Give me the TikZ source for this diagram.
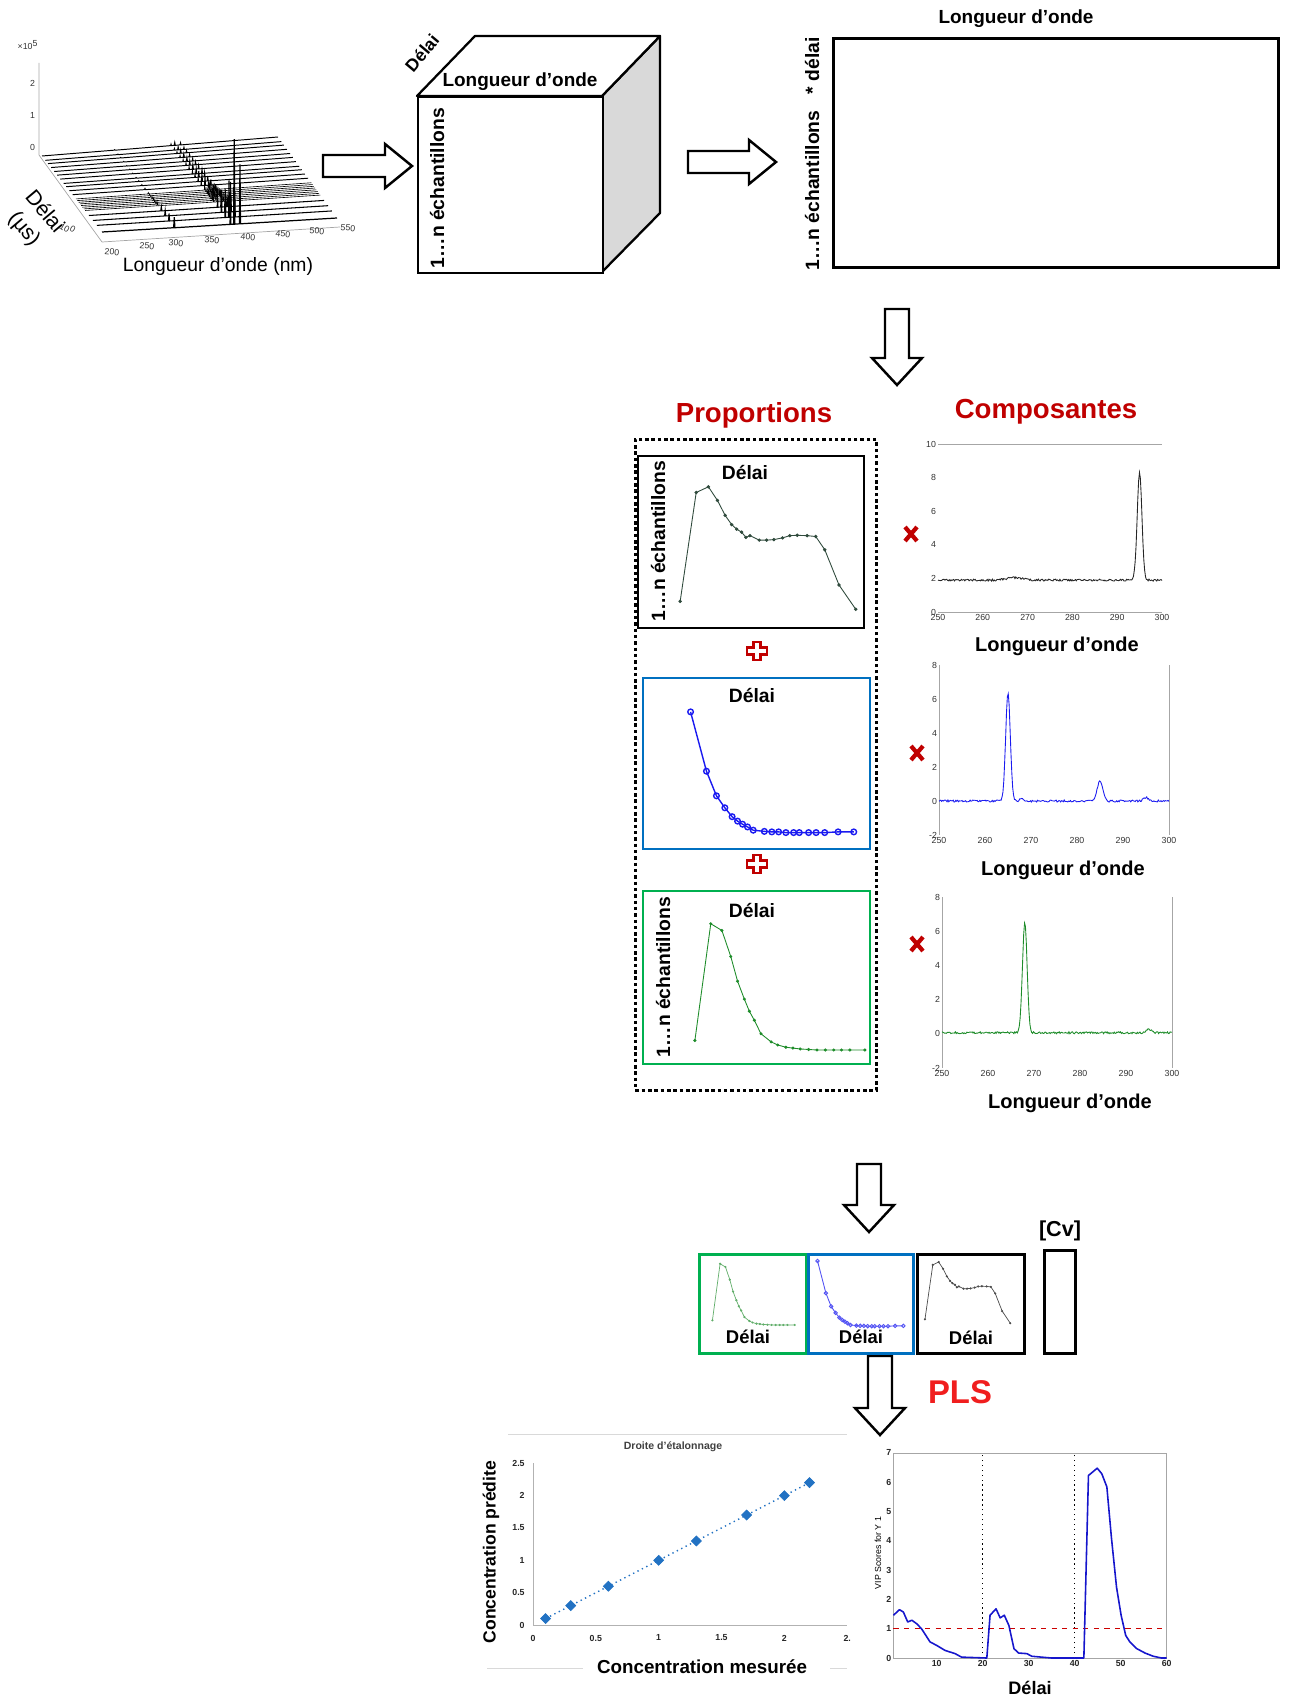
\documentclass[tikz,border=0pt]{standalone}
\usepackage{fontspec}
\setmainfont{Liberation Sans}
\usetikzlibrary{calc,positioning,plotmarks}
\definecolor{redt}{HTML}{C00000}
\definecolor{plsred}{HTML}{F01E1E}
\definecolor{boxblue}{HTML}{0070C0}
\definecolor{boxgreen}{HTML}{00B050}
\definecolor{cgreen}{HTML}{1E8C2A}
\definecolor{cblue}{HTML}{1A1AF0}
\definecolor{cdark}{HTML}{2F4A3C}
\definecolor{diam}{HTML}{2272C3}
\definecolor{axgrey}{HTML}{A6A6A6}
\newcommand{\fsz}[1]{\fontsize{#1}{#1}\selectfont}
% proportion curves, in box units (0..1, 0 at the top)
\newcommand{\curveblack}[1]{\draw[#1] plot coordinates {(0.191,0.851) (0.262,0.218) (0.316,0.185) (0.356,0.264) (0.390,0.351) (0.419,0.405) (0.441,0.431) (0.463,0.449) (0.482,0.479) (0.500,0.469) (0.541,0.495) (0.574,0.495) (0.606,0.492) (0.644,0.482) (0.676,0.469) (0.709,0.467) (0.753,0.469) (0.791,0.474) (0.831,0.551) (0.894,0.756) (0.968,0.897)};}
\newcommand{\curveblue}[1]{\draw[#1] plot coordinates {(0.214,0.204) (0.284,0.551) (0.328,0.695) (0.365,0.765) (0.397,0.817) (0.421,0.843) (0.443,0.861) (0.465,0.877) (0.490,0.896) (0.539,0.903) (0.572,0.906) (0.602,0.906) (0.634,0.910) (0.668,0.910) (0.693,0.910) (0.734,0.910) (0.767,0.910) (0.805,0.910) (0.864,0.906) (0.933,0.906)};}
\newcommand{\curvegreen}[1]{\draw[#1] plot coordinates {(0.233,0.870) (0.303,0.195) (0.352,0.234) (0.391,0.384) (0.421,0.527) (0.451,0.631) (0.473,0.701) (0.495,0.753) (0.524,0.831) (0.569,0.878) (0.598,0.896) (0.634,0.909) (0.665,0.914) (0.697,0.919) (0.734,0.922) (0.771,0.925) (0.808,0.925) (0.845,0.925) (0.879,0.925) (0.916,0.925) (0.982,0.925)};}
\tikzset{
  lbl/.style={font=\bfseries\fsz{#1},inner sep=0pt},
  lbl/.default=11,
  ttl/.style={font=\bfseries\fsz{15.7},text=redt,inner sep=0pt},
  tick/.style={font=\fsz{5},inner sep=1pt,text=black!80},
  btick/.style={font=\bfseries\fsz{5},inner sep=1pt,text=black!85},
  frame/.style={draw,line width=1.3pt,inner sep=0pt,anchor=north west},
  sframe/.style={draw,line width=1.7pt,inner sep=0pt,anchor=north west,fill=white},
  fat/.style={draw,line width=1.4pt,fill=white,line join=miter},
  axl/.style={axgrey,line width=0.4pt},
  plotax/.style={black!35,line width=0.4pt},
  xmark/.style={redt,line width=2.4pt},
  plusmark/.style={draw=redt,line width=1.4pt,fill=white},
}
\begin{document}
\begin{tikzpicture}[x=0.02cm,y=-0.02cm]
\useasboundingbox (0,0) rectangle (1290,1699);

% 3D spectra
\draw[axl] (39,63) -- (39,155) -- (102,242) -- (340,227);
\foreach \v/\yy in {0/147,1/115,2/83}{\node[tick,anchor=east] (z\v) at (37,\yy) {\v};}
\node[tick] (zexp) at (28,45) {×10\textsuperscript{5}};
\foreach \fr/\lw in {0/0.55,0.057/0.55,0.1/0.55,0.152/0.55,0.204/0.55,0.252/0.55,0.304/0.55,0.361/0.55,0.404/0.55,0.457/0.55,0.509/0.55,0.565/0.35,0.587/0.35,0.609/0.35,0.63/0.35,0.652/0.35,0.674/0.35,0.696/0.35,0.717/0.35,0.783/0.6,0.848/0.6,0.913/0.6,1/0.7}{
  \pgfmathsetmacro\ha{0.5+10*\fr^4}
  \pgfmathsetmacro\hb{3+20*\fr^2+62*\fr^14}
  \coordinate (ws) at ({42+60*\fr},{156+76*\fr});
  \coordinate (we) at ({278+59*\fr},{137+81*\fr});
  \draw[line width=\lw pt] (ws) -- ($(ws)!0.305!(we)$) -- ++(0.6,-\ha) -- ++(0.6,\ha) -- ($(ws)!0.545!(we)$) -- ++(0.4,{-0.5*\hb}) -- ++(0.4,{0.5*\hb}) -- ($(ws)!0.56!(we)$) -- ++(0.6,-\hb) -- ++(0.6,\hb) -- ($(ws)!0.585!(we)$) -- ++(0.5,{-0.7*\hb}) -- ++(0.5,{0.7*\hb}) -- (we);
}
\foreach \lab/\xx/\yy in {200/112/252,250/147/246,300/176/243,350/212/240,400/248/237,450/283/234,500/317/231,550/348/228}{
  \node[tick,rotate=-5] (w\lab) at (\xx,\yy) {\lab};}
\node[font=\fsz{11},inner sep=0pt] (wlab) at (218,267) {Longueur d’onde (nm)};
\node[font=\fsz{12},rotate=-50,inner sep=0pt,align=center,execute at begin node={\setlength{\baselineskip}{15pt}}] (dlab) at (34,221) {Délai\\(µs)};
\node[tick,rotate=-30] (dten) at (68,228) {10\textsuperscript{0}};

% cube
\draw[line width=1.3pt,fill=black!15,line join=round] (602,96) -- (660,36) -- (660,213) -- (602,272) -- cycle;
\draw[line width=1.3pt,fill=white,line join=round] (417,96) -- (475,36) -- (660,36) -- (602,96) -- cycle;
\node[frame,fill=white,minimum width=3.70cm,minimum height=3.52cm] (cube) at (417,96) {};
\node[lbl=10,rotate=50] (cubed) at (422,53) {Délai};
\node[lbl=10.8] (cubew) at (520,82) {Longueur d’onde};
\node[lbl,rotate=90] (cuben) at (437,188) {1…n échantillons};

% unfolded matrix
\node[frame,line width=1.6pt,minimum width=8.90cm,minimum height=4.58cm] (unf) at (832,37) {};
\node[lbl=10.8] (unfw) at (1016,19) {Longueur d’onde};
\node[lbl,rotate=90] (unfn) at (812,154) {1…n échantillons\ \ \ * délai};

% block arrows
\foreach \xa/\xb/\yc in {323/412/166,688/776/162}{
  \draw[fat] (\xa,\yc-11) -- (\xb-27,\yc-11) -- (\xb-27,\yc-22) -- (\xb,\yc) -- (\xb-27,\yc+22) -- (\xb-27,\yc+11) -- (\xa,\yc+11) -- cycle;}
\foreach \xc/\ya/\yb in {897/309/385,869/1164/1232,880/1356/1435}{
  \draw[fat] (\xc-12,\ya) -- (\xc-12,\yb-27) -- (\xc-25,\yb-27) -- (\xc,\yb) -- (\xc+25,\yb-27) -- (\xc+12,\yb-27) -- (\xc+12,\ya) -- cycle;}

% proportions
\node[ttl] (prop) at (754,415) {Proportions};
\node[ttl] (comp) at (1046,412) {Composantes};
\node[draw,line width=1.6pt,dash pattern=on 2pt off 1.6pt,minimum width=4.82cm,minimum height=13.02cm,inner sep=0pt,anchor=north west] (dots) at (634,438) {};
\node[frame,minimum width=4.52cm,minimum height=3.44cm] (pA) at (637,455) {};
\node[frame,draw=boxblue,minimum width=4.54cm,minimum height=3.42cm] (pB) at (642,677) {};
\node[frame,draw=boxgreen,minimum width=4.54cm,minimum height=3.46cm] (pC) at (642,890) {};
\begin{scope}[shift={(637,455)},x=4.52cm,y=-3.44cm]
  \curveblack{cdark,line width=0.5pt,mark=*,mark size=0.7pt}
\end{scope}
\begin{scope}[shift={(642,677)},x=4.54cm,y=-3.42cm]
  \curveblue{cblue,line width=0.8pt,mark=o,mark size=1.6pt}
\end{scope}
\begin{scope}[shift={(642,890)},x=4.54cm,y=-3.46cm]
  \curvegreen{cgreen,line width=0.5pt,mark=*,mark size=0.6pt}
\end{scope}
\node[lbl] (pAd) at (745,473) {Délai};
\node[lbl] (pBd) at (752,696) {Délai};
\node[lbl] (pCd) at (752,910) {Délai};
\node[lbl,rotate=90] (pAn) at (658,541) {1…n échantillons};
\node[lbl,rotate=90] (pCn) at (663,977) {1…n échantillons};
\foreach \yy in {651,864}{
  \draw[plusmark] (753.5,\yy-9) -- (760.5,\yy-9) -- (760.5,\yy-3.5) -- (767,\yy-3.5) -- (767,\yy+3.5) -- (760.5,\yy+3.5) -- (760.5,\yy+9) -- (753.5,\yy+9) -- (753.5,\yy+3.5) -- (747,\yy+3.5) -- (747,\yy-3.5) -- (753.5,\yy-3.5) -- cycle;}

% components
\pgfmathsetseed{11}
\foreach \xx/\yy in {911/534,917/753,917/944}{
  \draw[xmark] (\xx-6,\yy-7) -- (\xx+6,\yy+7) (\xx-6,\yy+7) -- (\xx+6,\yy-7);}
\begin{scope}[shift={(938,612)},x=0.0896cm,y=0.336cm]
  \draw[plotax] (0,0) -- (50,0) (0,10) -- (50,10);
  \foreach \v in {0,2,...,10}{\node[tick,anchor=east] (ka\v) at (0,\v) {\v};}
  \foreach \u in {0,10,...,50}{\pgfmathtruncatemacro\lab{250+\u}\node[tick,anchor=north] (kb\u) at (\u,0) {\lab};}
  \draw[black!85,line width=0.5pt] plot[domain=0:50,samples=260] (\x,{1.9+0.06*rand+0.15*exp(-((\x-17)^2)/6)+6.4*exp(-((\x-45)^2)/0.55)});
\end{scope}
\node[lbl=11.4] (compA) at (1057,646) {Longueur d’onde};
\begin{scope}[shift={(939,801)},x=0.092cm,y=0.34cm]
  \draw[plotax] (0,-2) -- (0,8) (50,-2) -- (50,8);
  \foreach \v in {-2,0,...,8}{\node[tick,anchor=east] (kc\v) at (0,\v) {\v};}
  \foreach \u in {0,10,...,50}{\pgfmathtruncatemacro\lab{250+\u}\node[tick,anchor=north] (kd\u) at (\u,-2) {\lab};}
  \draw[cblue,line width=0.5pt] plot[domain=0:50,samples=260] (\x,{0.06*rand+6.4*exp(-((\x-15)^2)/0.5)+0.15*exp(-((\x-18)^2)/0.3)+1.2*exp(-((\x-35)^2)/0.7)+0.2*exp(-((\x-45)^2)/0.6)});
\end{scope}
\node[lbl=11.4] (compB) at (1063,870) {Longueur d’onde};
\begin{scope}[shift={(942,1033.8)},x=0.092cm,y=0.342cm]
  \draw[plotax] (0,-2) -- (0,8) (50,-2) -- (50,8);
  \foreach \v in {-2,0,...,8}{\node[tick,anchor=east] (ke\v) at (0,\v) {\v};}
  \foreach \u in {0,10,...,50}{\pgfmathtruncatemacro\lab{250+\u}\node[tick,anchor=north] (kf\u) at (\u,-2) {\lab};}
  \draw[cgreen,line width=0.5pt] plot[domain=0:50,samples=260] (\x,{0.06+0.06*rand+6.5*exp(-((\x-18)^2)/0.5)+0.2*exp(-((\x-45)^2)/0.8)});
\end{scope}
\node[lbl=11.4] (compC) at (1070,1103) {Longueur d’onde};

% regression matrix
\node[sframe,draw=boxgreen,minimum width=2.14cm,minimum height=1.98cm] (sG) at (698,1253) {};
\node[sframe,draw=boxblue,minimum width=2.10cm,minimum height=1.98cm] (sB) at (807,1253) {};
\node[sframe,minimum width=2.14cm,minimum height=1.98cm] (sK) at (916,1253) {};
\node[sframe,minimum width=0.62cm,minimum height=2.06cm] (cv) at (1043,1249) {};
\begin{scope}[shift={(686.8,1247.4)},x=2.198cm,y=-1.677cm]
  \curvegreen{cgreen!70,line width=0.4pt,mark=*,mark size=0.4pt}
\end{scope}
\begin{scope}[shift={(792,1242.2)},x=2.386cm,y=-1.847cm]
  \curveblue{cblue!75,line width=0.5pt,mark=o,mark size=1pt}
\end{scope}
\begin{scope}[shift={(904,1246.1)},x=2.196cm,y=-1.72cm]
  \curveblack{black!70,line width=0.4pt,mark=*,mark size=0.4pt}
\end{scope}
\node[lbl=10.5] (sGd) at (748,1337) {Délai};
\node[lbl=10.5] (sBd) at (861,1337) {Délai};
\node[lbl=10.5] (sKd) at (971,1338) {Délai};
\node[lbl=12.3] (cvl) at (1060,1231) {[Cv]};
\node[font=\bfseries\fsz{18.7},text=plsred,inner sep=0pt] (pls) at (960,1392) {PLS};

% calibration line
\draw[black!15,line width=0.5pt] (508,1434) -- (847,1434) (487,1668) -- (583,1668) (830,1668) -- (847,1668);
\node[font=\bfseries\fsz{6},text=black!75,inner sep=0pt] (calt) at (673,1447) {Droite d'étalonnage};
\begin{scope}[shift={(533,1625)},x=2.514cm,y=1.294cm]
  \draw[black!30,line width=0.5pt] (0,2.5) -- (0,0) -- (2.5,0);
  \foreach \v in {0,0.5,1,1.5,2,2.5}{\node[btick,anchor=east] (cy\v) at (-0.05,\v) {\v};}
  \foreach \u/\lab in {0/0,0.5/0.5,1/1,1.5/1.5,2/2,2.5/2.}{\node[btick,anchor=north] (cx\u) at (\u,-0.12) {\lab};}
  \draw[diam,dotted,line width=0.8pt] (0.1,0.1) -- (2.2,2.2);
  \draw[diam] plot[only marks,mark=square*,mark size=2pt,mark options={rotate=45}] coordinates {(0.1,0.1) (0.3,0.3) (0.6,0.6) (1,1) (1.3,1.3) (1.7,1.7) (2,2) (2.2,2.2)};
\end{scope}
\node[lbl=10,rotate=90] (caly) at (491,1552) {Concentration prédite};
\node[lbl=10.7] (calx) at (702,1667) {Concentration mesurée};

% VIP scores
\begin{scope}[shift={(890.7,1658)},x=0.092cm,y=0.586cm]
  \draw[plotax] (0.6,0) rectangle (60,7);
  \foreach \v in {0,...,7}{\node[btick,anchor=east] (vy\v) at (0.6,\v) {\v};}
  \foreach \u in {10,20,...,60}{\node[btick,anchor=north] (vx\u) at (\u,0) {\u};}
  \draw[black,dotted,line width=0.8pt] (20,0) -- (20,7) (40,0) -- (40,7);
  \draw[red!80!black,dashed,line width=0.7pt] (0.6,1) -- (60,1);
  \draw[cblue!85!black,line width=0.9pt,line join=round] plot coordinates {(0.6,1.46) (1.9,1.65) (2.75,1.57) (3.7,1.23) (4.6,1.29) (5.65,1.17) (6.7,1.0) (8.55,0.55) (10,0.43) (11.8,0.26) (14,0.15) (15.4,0.03) (20.9,0) (21.6,1.46) (22.9,1.68) (23.8,1.37) (24.7,1.46) (25.7,1.11) (26.8,0.32) (27.8,0.17) (29.6,0.15) (30.7,0.06) (32.8,0.03) (35,0) (42,0) (43,6.23) (44.9,6.48) (45.9,6.29) (47,5.84) (48,4.1) (49.1,2.42) (50.1,1.46) (51.1,0.77) (52,0.55) (53.5,0.32) (55.3,0.17) (57.1,0.06) (58.9,0) (60,0)};
\end{scope}
\node[font=\fsz{5},rotate=90,inner sep=0pt] (vipy) at (878,1553) {VIP Scores for Y 1};
\node[lbl=10.3] (vipx) at (1030,1688) {Délai};
\end{tikzpicture}
\end{document}
